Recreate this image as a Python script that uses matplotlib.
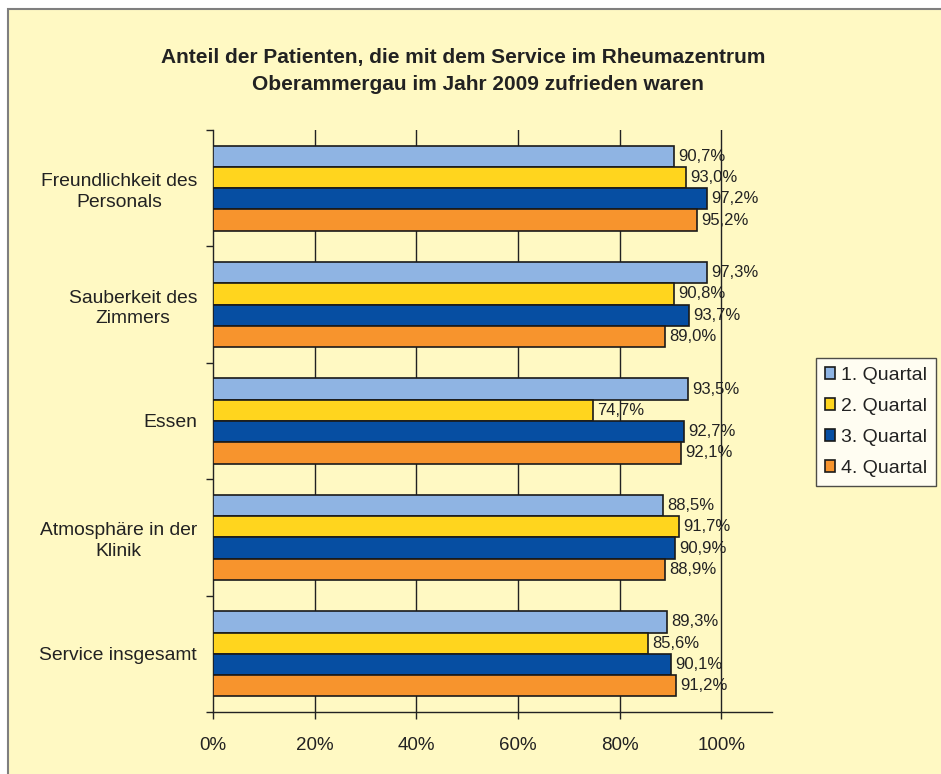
import matplotlib
matplotlib.use("Agg")
import matplotlib.pyplot as plt
from matplotlib.patches import Rectangle
from matplotlib.ticker import FixedLocator

categories = ["Freundlichkeit des\nPersonals", "Sauberkeit des\nZimmers", "Essen",
              "Atmosphäre in der\nKlinik", "Service insgesamt"]
series_names = ["1. Quartal", "2. Quartal", "3. Quartal", "4. Quartal"]
q1 = [90.7, 97.3, 93.5, 88.5, 89.3]
q2 = [93.0, 90.8, 74.7, 91.7, 85.6]
q3 = [97.2, 93.7, 92.7, 90.9, 90.1]
q4 = [95.2, 89.0, 92.1, 88.9, 91.2]
x_ticks = [0, 20, 40, 60, 80, 100]
x_tick_labels = ["0%", "20%", "40%", "60%", "80%", "100%"]
title_lines = ["Anteil der Patienten, die mit dem Service im Rheumazentrum",
               "Oberammergau im Jahr 2009 zufrieden waren"]

colors = ["#8FB4E3", "#FFD51E", "#064EA2", "#F7942D"]
FONT = ["Liberation Sans", "DejaVu Sans"]
plt.rcParams["font.family"] = FONT
TXT = "#222222"

W, H = 941, 774
fig = plt.figure(figsize=(W / 100, H / 100), dpi=100)
fig.patch.set_facecolor("white")
fig.add_artist(Rectangle((8 / W, -0.01), 1.02, 1 - 9 / H + 0.01, transform=fig.transFigure,
                         facecolor="#FFF9C3", edgecolor="#7f7f7f", lw=1.5, zorder=0))

ax = fig.add_axes([213 / W, 1 - 712 / H, (772 - 213) / W, (712 - 130) / H])
ax.set_facecolor("none")

series = [q1, q2, q3, q4]
h = 0.1826
for k, (vals, name, col) in enumerate(zip(series, series_names, colors)):
    ys = [i + (k - 1.5) * h for i in range(len(categories))]
    ax.barh(ys, vals, height=h, color=col, edgecolor="#1a1a1a", linewidth=1.2,
            label=name, zorder=3)
    for y, v in zip(ys, vals):
        ax.annotate(f"{v:.1f}%".replace(".", ","), (v, y), xytext=(3, 0),
                    textcoords="offset points", va="center", ha="left",
                    fontsize=12, color=TXT, zorder=5)

ax.set_xlim(0, 110)
ax.set_ylim(len(categories) - 0.5, -0.5)
ax.set_xticks(x_ticks)
ax.set_xticklabels(x_tick_labels, fontsize=13.5, color=TXT)
ax.set_yticks(range(len(categories)))
ax.set_yticklabels(categories, fontsize=13.9, color=TXT, multialignment="center",
                   linespacing=1.3)
ax.yaxis.set_minor_locator(FixedLocator([i - 0.5 for i in range(len(categories) + 1)]))
ax.tick_params(axis="y", which="major", length=0, pad=11.5)
ax.tick_params(axis="y", which="minor", length=5, width=1, color="#222222")
ax.tick_params(axis="x", which="major", length=5, width=1, color="#222222", pad=13)
for x in x_ticks[1:]:
    ax.axvline(x, color="#222222", lw=1, zorder=1)
for s in ["top", "right"]:
    ax.spines[s].set_visible(False)
for s in ["left", "bottom"]:
    ax.spines[s].set_color("#222222")
    ax.spines[s].set_linewidth(1)

fig.text(463 / W, 1 - 57 / H, title_lines[0], ha="center", va="center",
         fontsize=15, fontweight="bold", color=TXT)
fig.text(478 / W, 1 - 84 / H, title_lines[1], ha="center", va="center",
         fontsize=15, fontweight="bold", color=TXT)

leg = fig.legend(loc="upper left", bbox_to_anchor=(816 / W, 1 - 358 / H),
                 fontsize=14, frameon=True, fancybox=False, handlelength=0.52,
                 handleheight=0.52, handletextpad=0.3, labelspacing=0.72,
                 borderpad=0.45, borderaxespad=0)
leg.get_frame().set_edgecolor("#222222")
leg.get_frame().set_linewidth(1)
leg.get_frame().set_facecolor("white")
for t in leg.get_texts():
    t.set_color(TXT)

fig.savefig("out.png", dpi=100)
